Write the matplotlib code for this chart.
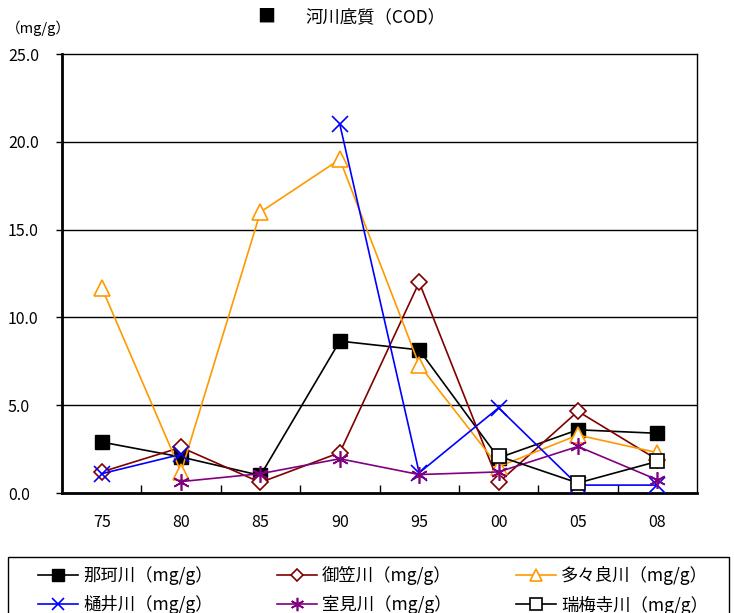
import numpy as np
import matplotlib.pyplot as plt
from matplotlib.patches import Rectangle

plt.rcParams['font.family'] = ['Noto Sans CJK JP', 'DejaVu Sans']

# 年度ラベル
years = ['75', '80', '85', '90', '95', '00', '05', '08']

# 各河川のCOD (mg/g)
naka = [2.9, 2.05, 1.0, 8.65, 8.15, 2.0, 3.6, 3.4]
mikasa = [1.2, 2.6, 0.6, 2.3, 12.0, 0.6, 4.65, 1.9]
tatara = [11.7, 1.2, 16.0, 19.0, 7.3, 1.5, 3.3, 2.3]
hii = [1.1, 2.2, np.nan, 21.0, 1.15, 4.85, 0.45, 0.45]
muromi = [np.nan, 0.65, 1.1, 1.95, 1.05, 1.2, 2.65, 0.75]
zuibaiji = [np.nan, np.nan, np.nan, np.nan, np.nan, 2.1, 0.57, 1.8]

x = np.arange(len(years))

fig = plt.figure(figsize=(7.34, 6.13), dpi=100)
ax = fig.add_axes([62 / 734, 1 - 493 / 613, 635 / 734, 439 / 613])

for yv in [5, 10, 15, 20]:
    ax.axhline(yv, color='black', lw=1.0, zorder=1)

l_naka, = ax.plot(x, naka, color='black', lw=1.2, marker='s', ms=10,
                  mfc='black', mec='black', label='那珂川（mg/g）', zorder=3)
l_mikasa, = ax.plot(x, mikasa, color='#800000', lw=1.2, marker='D', ms=8,
                    mfc='white', mec='#800000', mew=1.2, label='御笠川（mg/g）', zorder=3)
l_tatara, = ax.plot(x, tatara, color='#FF9900', lw=1.2, marker='^', ms=11,
                    mfc='white', mec='#FF9900', mew=1.2, label='多々良川（mg/g）', zorder=3)
l_hii, = ax.plot(x, hii, color='#0000FF', lw=1.2, marker='x', ms=11,
                 mew=1.2, label='樋井川（mg/g）', zorder=3)
l_muromi, = ax.plot(x, muromi, color='#800080', lw=1.2, marker=(6, 2, 0), ms=12,
                    mew=1.2, label='室見川（mg/g）', zorder=3)
l_zui, = ax.plot(x, zuibaiji, color='black', lw=1.2, marker='s', ms=10,
                 mfc='white', mec='black', mew=1.2, label='瑞梅寺川（mg/g）', zorder=4)

ax.set_xlim(-0.5, len(years) - 0.5)
ax.set_ylim(0, 25)
ax.set_yticks([0, 5, 10, 15, 20, 25])
ax.set_yticklabels(['0.0', '5.0', '10.0', '15.0', '20.0', '25.0'], fontsize=11.5)
ax.tick_params(axis='y', length=4, width=1, pad=35)
for lab in ax.get_yticklabels():
    lab.set_horizontalalignment('left')

# x軸: 目盛り線はカテゴリ間、ラベルは中央
ax.set_xticks(x)
ax.set_xticklabels(years, fontsize=11.5)
ax.tick_params(axis='x', which='major', length=0, pad=15)
ax.set_xticks(np.arange(0.5, len(years) - 0.5), minor=True)
ax.tick_params(axis='x', which='minor', direction='in', length=6, width=1)

for side in ['left', 'bottom']:
    ax.spines[side].set_linewidth(2)
for side in ['top', 'right']:
    ax.spines[side].set_linewidth(1)

fig.text(257 / 734, 1 - 17 / 613, '■', fontsize=13, va='center', ha='left')
fig.text(305 / 734, 1 - 17 / 613, '河川底質（COD）', fontsize=12.5, va='center', ha='left')
fig.text(6 / 734, 1 - 28 / 613, '（mg/g）', fontsize=10.5, va='center', ha='left')

# 凡例の枠（下端は図の外まで）
fig.patches.append(Rectangle((8 / 734, -0.05), 721 / 734, 0.05 + 56 / 613,
                             transform=fig.transFigure, fill=False,
                             edgecolor='black', lw=1.0, clip_on=False))

handles = [l_naka, l_hii, l_mikasa, l_muromi, l_tatara, l_zui]
leg = fig.legend(handles=handles, labels=[h.get_label() for h in handles],
                 ncol=3, loc='upper left', bbox_to_anchor=(38 / 734, 1 - 566 / 613),
                 fontsize=12.5, frameon=False, borderaxespad=0, borderpad=0,
                 handlelength=2.3, handletextpad=0.3, labelspacing=0.6,
                 columnspacing=3.7, markerscale=0.8)

fig.savefig('out.png', dpi=100)
